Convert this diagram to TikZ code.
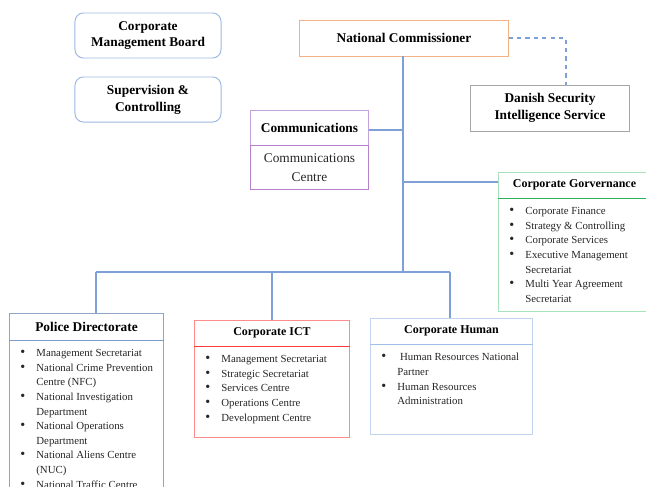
\documentclass[tikz,border=0pt]{standalone}
\usepackage{fontspec}
\setmainfont{Liberation Serif}
\usepackage{enumitem}
\usetikzlibrary{positioning}

\setlist[itemize]{nosep, leftmargin=0.66cm, labelsep=0.28cm,
    label={\fontsize{10}{10}\selectfont\textbullet}}

\definecolor{cmbblue}{HTML}{9DB9E3}
\definecolor{natorange}{HTML}{F4B183}
\definecolor{dsisgray}{HTML}{A6A6A6}
\definecolor{commpurple}{HTML}{C3A2DC}
\definecolor{govgreen}{HTML}{A8E2BC}
\definecolor{govsep}{HTML}{2DB35A}
\definecolor{polblue}{HTML}{8FA5C8}
\definecolor{polsep}{HTML}{7A9AD0}
\definecolor{ictred}{HTML}{FF8C8C}
\definecolor{ictsep}{HTML}{FF3B3B}
\definecolor{humblue}{HTML}{BFD4EE}
\definecolor{humsep}{HTML}{A3C0E8}
\definecolor{lineblue}{HTML}{7FA0D6}

% top-aligned bullet list of fixed size
\newcommand{\unitlist}[3]{\parbox[c][#2][t]{#1}{\raggedright\vspace{6pt}%
  \begin{itemize}#3\end{itemize}}}

\begin{document}
\begin{tikzpicture}[x=0.025cm, y=-0.025cm,
    board/.style={rectangle, rounded corners=6pt, draw=cmbblue, line width=0.7pt,
        minimum width=3.65cm, minimum height=1.125cm, align=center,
        font=\fontsize{9.5}{12}\selectfont\bfseries},
    unit/.style={rectangle, draw, line width=0.7pt, align=center, inner sep=0pt,
        font=\fontsize{9.5}{12}\selectfont\bfseries},
    head/.style={unit, minimum height=0.65cm},
    body/.style={rectangle, draw, line width=0.7pt, anchor=north, inner sep=0pt,
        text=black!85, font=\fontsize{7.7}{10.4}\selectfont},
    link/.style={draw=lineblue, line width=1.1pt},
    dashlink/.style={draw=lineblue, line width=0.8pt, dashed}
]
\useasboundingbox (0,0) rectangle (646,487);
\clip (0,0) rectangle (646,487);

% --- Boards ---
\node[board] (cmb) at (148,35.5) {Corporate\\Management Board};
\node[board] (sup) at (148,99.5) {Supervision \&\\Controlling};

% --- Top level ---
\node[unit, draw=natorange, minimum width=5.2cm, minimum height=0.9cm] (natcom) at (404,38)
    {National Commissioner};
\node[unit, draw=dsisgray, minimum width=3.95cm, minimum height=1.15cm] (dsis) at (550,108)
    {Danish Security\\Intelligence Service};

% --- Communications ---
\node[unit, draw=commpurple, minimum width=2.925cm, minimum height=0.875cm] (comm) at (309.5,127.5)
    {Communications};
\node[unit, draw=commpurple!80!violet, minimum width=2.925cm, minimum height=1.075cm,
    font=\fontsize{9.5}{13.5}\selectfont, text=black!85, anchor=north] (commc) at (comm.south)
    {Communications\\Centre};

% --- Corporate Governance ---
\node[head, draw=govgreen, minimum width=3.775cm, font=\fontsize{8.5}{10}\selectfont\bfseries] (govhead) at (574.5,185)
    {Corporate Gorvernance};
\node[body, draw=govgreen] (govbody) at (govhead.south) {\unitlist{3.775cm}{2.8cm}{%
    \item Corporate Finance
    \item Strategy \& Controlling
    \item Corporate Services
    \item Executive Management\\Secretariat
    \item Multi Year Agreement\\Secretariat}};
\draw[govsep, line width=0.8pt] (govhead.south west) -- (govhead.south east);

% --- Police Directorate ---
\node[head, draw=polblue, minimum width=3.825cm, minimum height=0.675cm] (polhead) at (86.5,326.5)
    {Police Directorate};
\node[body, draw=polblue] (polbody) at (polhead.south) {\unitlist{3.825cm}{4.75cm}{%
    \item Management Secretariat
    \item National Crime Prevention\\Centre (NFC)
    \item National Investigation\\Department
    \item National Operations\\Department
    \item National Aliens Centre\\(NUC)
    \item National Traffic Centre}};
\draw[polsep, line width=0.8pt] (polhead.south west) -- (polhead.south east);

% --- Corporate ICT ---
\node[head, draw=ictred, minimum width=3.85cm, font=\fontsize{8.5}{10}\selectfont\bfseries] (icthead) at (272,333)
    {Corporate ICT};
\node[body, draw=ictred] (ictbody) at (icthead.south) {\unitlist{3.85cm}{2.25cm}{%
    \item Management Secretariat
    \item Strategic Secretariat
    \item Services Centre
    \item Operations Centre
    \item Development Centre}};
\draw[ictsep, line width=0.8pt] (icthead.south west) -- (icthead.south east);

% --- Corporate Human ---
\node[head, draw=humblue, minimum width=4.025cm, font=\fontsize{8.5}{10}\selectfont\bfseries] (humhead) at (451.5,331)
    {Corporate Human};
\node[body, draw=humblue] (humbody) at (humhead.south) {\unitlist{4.025cm}{2.225cm}{%
    \item \ Human Resources National\\Partner
    \item Human Resources\\Administration}};
\draw[humsep, line width=0.8pt] (humhead.south west) -- (humhead.south east);

% --- Connectors ---
\coordinate (hub) at (403,272);
\coordinate (barL) at (96,272);
\coordinate (barR) at (450,272);
\draw[link] (natcom.south -| hub) -- (hub);
\draw[link] ([yshift=-0.06cm]comm.east) -- ([yshift=-0.06cm]comm.east -| hub);
\draw[link] ([yshift=0.075cm]govhead.west) -- ([yshift=0.075cm]govhead.west -| hub);
\draw[link] (barL) -- (barR);
\draw[link] (barL) -- (barL |- polhead.north);
\draw[link] (icthead.north |- barL) -- (icthead.north);
\draw[link] (barR) -- (barR |- humhead.north);
\draw[dashlink] (natcom.east) -| ([xshift=0.4cm]dsis.north);

\end{tikzpicture}
\end{document}
